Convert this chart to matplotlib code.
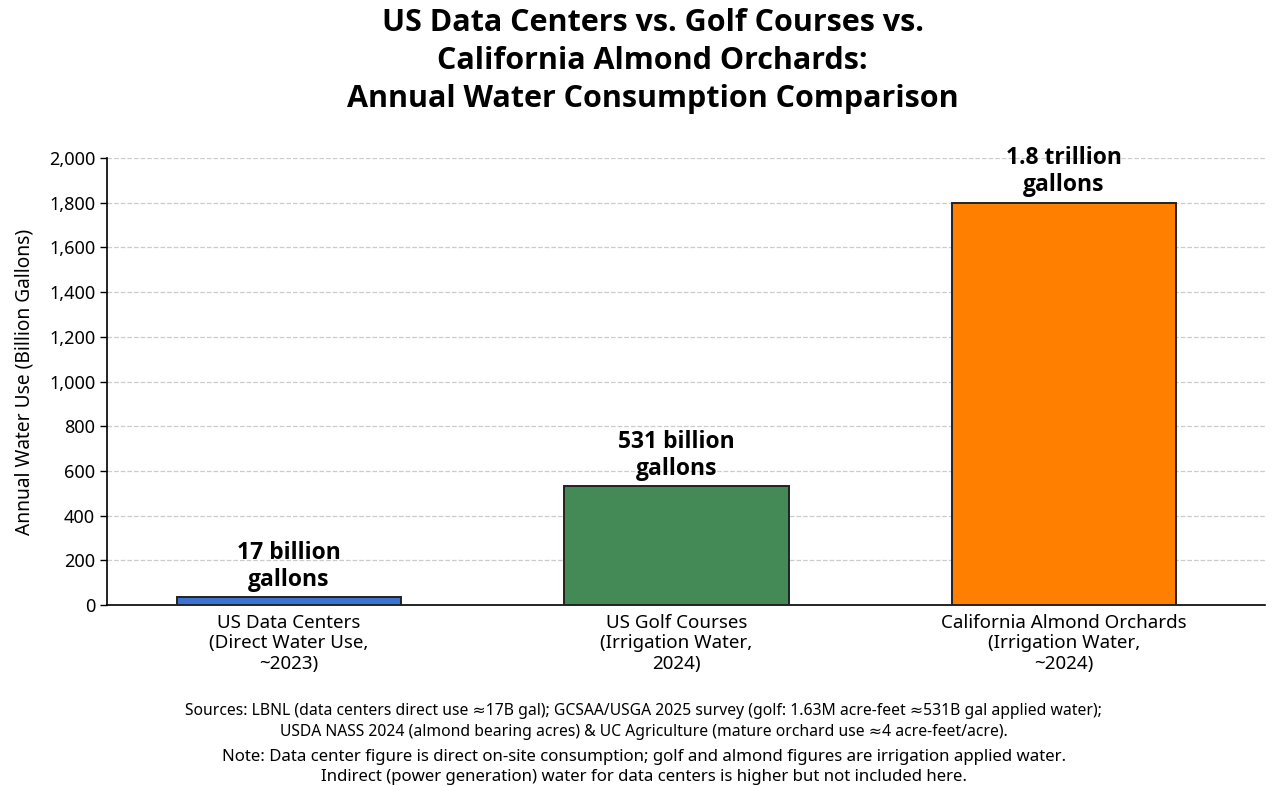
import matplotlib.pyplot as plt
from matplotlib.ticker import FuncFormatter

plt.rcParams['font.family'] = ['Noto Sans', 'DejaVu Sans']
bold_font = ['Open Sans', 'Lato', 'DejaVu Sans']

# data
categories = ['US Data Centers\n(Direct Water Use,\n~2023)',
              'US Golf Courses\n(Irrigation Water,\n2024)',
              'California Almond Orchards\n(Irrigation Water,\n~2024)']
water_use = [35, 531, 1800]
bar_labels = ['17 billion\ngallons', '531 billion\ngallons', '1.8 trillion\ngallons']
colors = ['#3b73d3', '#438a56', '#ff8000']

fig = plt.figure(figsize=(12.8, 7.86), dpi=100)
ax = fig.add_axes([0.0836, 0.230, 0.905, 0.569])

x = range(len(categories))
bars = ax.bar(x, water_use, width=0.58, color=colors, edgecolor='#222222',
              linewidth=1.4, zorder=3)

for b, lab in zip(bars, bar_labels):
    ax.annotate(lab, (b.get_x() + b.get_width() / 2, b.get_height()),
                xytext=(0, 4), textcoords='offset points', ha='center', va='bottom',
                fontsize=16.5, fontweight='bold', linespacing=1.15, zorder=4,
                family=bold_font)

ax.set_xlim(-0.47, 2.52)
ax.set_ylim(0, 2000)
ax.set_yticks(range(0, 2001, 200))
ax.yaxis.set_major_formatter(FuncFormatter(lambda v, p: f'{int(v):,}'))
ax.set_xticks(list(x))
ax.set_xticklabels(categories, fontsize=13.5, linespacing=1.2)
ax.tick_params(axis='x', length=0, pad=6)
ax.tick_params(axis='y', labelsize=13, length=5, width=1)
ax.set_ylabel('Annual Water Use (Billion Gallons)', fontsize=13.8, labelpad=10)

ax.grid(axis='y', linestyle='--', color='#cccccc', linewidth=0.9, zorder=0)
ax.spines['top'].set_visible(False)
ax.spines['right'].set_visible(False)
ax.spines['left'].set_linewidth(1.2)
ax.spines['bottom'].set_linewidth(1.2)

fig.suptitle('US Data Centers vs. Golf Courses vs.\nCalifornia Almond Orchards:\nAnnual Water Consumption Comparison',
             x=0.51, y=0.99, fontsize=22, fontweight='bold', linespacing=1.36,
             family=bold_font)

fig.text(0.503, 0.082,
         'Sources: LBNL (data centers direct use \u224817B gal); GCSAA/USGA 2025 survey (golf: 1.63M acre-feet \u2248531B gal applied water);\n'
         'USDA NASS 2024 (almond bearing acres) & UC Agriculture (mature orchard use \u22484 acre-feet/acre).',
         ha='center', va='center', fontsize=11.3, linespacing=1.35)
fig.text(0.503, 0.024,
         'Note: Data center figure is direct on-site consumption; golf and almond figures are irrigation applied water.\n'
         'Indirect (power generation) water for data centers is higher but not included here.',
         ha='center', va='center', fontsize=12.1, linespacing=1.3)

fig.savefig('out.png', dpi=100, facecolor='white')
